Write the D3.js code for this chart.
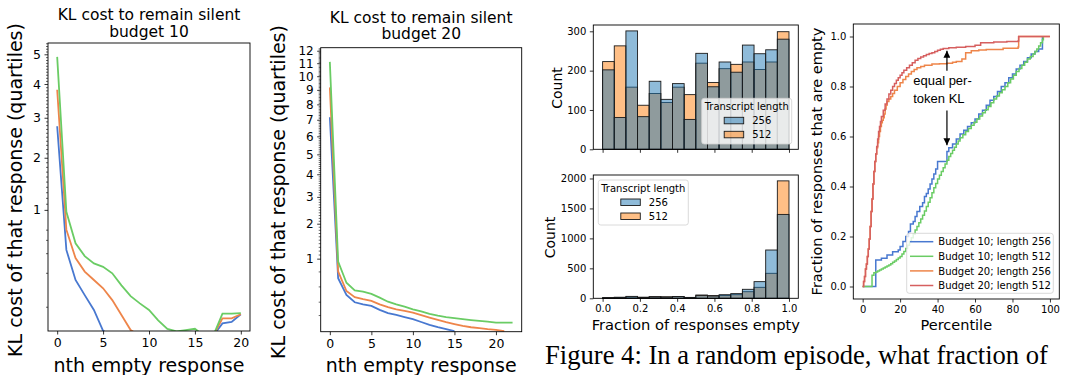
<!DOCTYPE html>
<html><head><meta charset="utf-8">
<script src="https://cdn.jsdelivr.net/npm/d3@7"></script>
<style>body{margin:0;background:#fff}svg{display:block}</style>
</head><body>
<svg id="c" width="1065" height="375"></svg>
<script>
// ---------- DATA ----------
// Panel 1: KL cost to remain silent, budget 10 (quartiles)
const p1Xs = [0,1,2,3,4,5,6,7,8,9,10,11,12,13,14,15,16,17,18,19,20];
const p1Lower  = [2.77,0.465,0.196,0.104,0.042,0.0015,0,0,0,0,0,0,0,0,0,0,0,0,0.0096,0.012,0.029];
const p1Median = [3.82,0.71,0.38,0.26,0.196,0.142,0.080,0.027,0.002,0,0,0,0,0,0,0,0,0,0.019,0.019,0.029];
const p1Upper  = [4.91,0.97,0.54,0.40,0.33,0.30,0.246,0.16,0.099,0.066,0.042,0.015,0.003,0.0012,0.002,0.003,0,0,0.031,0.031,0.032];
const p1Ticks = [1,2,3,4,5];
const p1XTicks = [0,5,10,15,20];
// Panel 2: budget 20
const p2Xs = [0,1,2,3,4,5,6,7,8,9,10,11,12,13,14,15,16,17,18,19,20,21,22];
const p2Lower  = [7.16,0.59,0.325,0.233,0.21,0.194,0.154,0.125,0.111,0.095,0.080,0.062,0.046,0.035,0.027,0.020];
const p2Median = [9.18,0.72,0.38,0.295,0.27,0.25,0.21,0.18,0.16,0.145,0.13,0.11,0.091,0.075,0.061,0.05,0.041,0.035,0.031,0.027,0.024,0.02];
const p2Upper  = [11.1,0.93,0.51,0.39,0.37,0.34,0.29,0.24,0.21,0.185,0.16,0.14,0.119,0.105,0.094,0.087,0.080,0.074,0.069,0.064,0.059,0.059,0.059];
const p2Ticks = [1,2,3,4,5,6,7,8,9,10,11,12];
const p2XTicks = [0,5,10,15,20];
// Panel 3: histograms of fraction of responses empty (16 bins on [0,1])
const histLengths = ["256","512"];
const topCounts256 = [202,81,301,83,173,127,167,76,244,159,222,196,265,243,253,280];
const topCounts512 = [223,263,158,112,142,119,158,139,219,170,205,216,222,203,222,299];
const botCounts256 = [12,18,32,15,22,20,30,10,45,38,60,78,150,278,806,1400];
const botCounts512 = [8,14,22,18,28,25,28,15,55,45,45,60,110,183,417,1960];
const topYTicks = [0,100,200,300];
const botYTicks = [0,500,1000,1500,2000];
const fracTicks = [0,0.2,0.4,0.6,0.8,1.0];
// Panel 4: step curves (percentile, fraction empty)
const b10l256 = [[0,0],[6.8,0],[7,0.106],[10,0.113],[13,0.126],[16,0.139],[19,0.146],[20,0.16],[21.5,0.18],[23,0.2],[24.5,0.22],[25.5,0.25],[27,0.26],[28,0.28],[29,0.3],[30.5,0.32],[32,0.335],[33,0.36],[34,0.372],[35,0.39],[36,0.41],[37,0.43],[38,0.45],[39,0.47],[40,0.5],[44,0.5],[45,0.54],[46,0.555],[48,0.57],[50,0.59],[52,0.61],[54,0.625],[56,0.64],[58,0.655],[60,0.67],[62,0.69],[64,0.705],[66,0.725],[68,0.745],[70,0.76],[72,0.78],[74,0.8],[76,0.815],[78,0.835],[80,0.85],[82,0.87],[84,0.885],[86,0.9],[88,0.915],[90,0.93],[92,0.94],[94,0.95],[96,1.0]];
const b10l512 = [[0,0],[4.8,0],[5,0.045],[6,0.055],[7,0.058],[8,0.062],[9,0.066],[10,0.07],[11,0.074],[12,0.078],[13,0.082],[14,0.086],[15,0.091],[16,0.097],[17,0.102],[18,0.108],[19,0.114],[20,0.12],[21,0.13],[22,0.14],[23,0.152],[24,0.165],[25,0.18],[26,0.195],[27,0.21],[28,0.226],[29,0.24],[30,0.255],[31,0.27],[32,0.285],[33,0.302],[34,0.32],[35,0.337],[36,0.355],[37,0.375],[38,0.395],[39,0.412],[40,0.43],[41,0.445],[42,0.46],[43,0.475],[44,0.49],[45,0.505],[46,0.52],[47,0.532],[48,0.545],[49,0.557],[50,0.57],[51,0.582],[52,0.595],[53.5,0.607],[55,0.62],[56.5,0.632],[58,0.645],[59.5,0.657],[61,0.67],[62.5,0.682],[64,0.695],[65.5,0.707],[67,0.72],[68.5,0.735],[70,0.75],[71.5,0.762],[73,0.775],[74.5,0.787],[76,0.8],[77.5,0.815],[79,0.83],[80.5,0.845],[82,0.86],[83.5,0.872],[85,0.885],[86.5,0.897],[88,0.91],[89.5,0.92],[91,0.93],[92,0.94],[93,0.95],[94,0.962],[95,0.975],[96,0.987],[96.5,1.0]];
const b20l256 = [[0,0],[0.5,0.02],[1,0.04],[1.5,0.07],[2,0.09],[2.5,0.12],[3,0.15],[3.5,0.19],[4,0.24],[4.5,0.3],[5,0.35],[5.5,0.41],[6,0.46],[6.5,0.5],[7,0.53],[7.5,0.555],[8,0.575],[8.5,0.6],[9,0.62],[9.5,0.64],[10,0.655],[10.5,0.665],[11,0.675],[11.5,0.69],[12,0.71],[12.5,0.725],[13,0.74],[14,0.75],[15,0.76],[16,0.772],[17,0.785],[18.5,0.8],[20,0.815],[21.5,0.828],[23,0.84],[24.5,0.85],[26,0.86],[27.5,0.868],[29,0.875],[31,0.88],[33,0.885],[37,0.89],[41,0.891],[45,0.893],[48,0.897],[50,0.9],[53,0.91],[55,0.935],[58,0.943],[62,0.946],[66,0.948],[75,0.953],[83,0.958],[83.3,1.0],[100,1.0]];
const b20l512 = [[0,0],[0.5,0.02],[1,0.04],[1.5,0.07],[2,0.09],[2.5,0.12],[3,0.15],[3.5,0.19],[4,0.24],[4.5,0.3],[5,0.35],[5.5,0.41],[6,0.46],[6.5,0.5],[7,0.53],[7.5,0.56],[8,0.59],[8.5,0.62],[9,0.64],[9.5,0.66],[10,0.68],[11,0.705],[12,0.73],[13,0.75],[14,0.77],[15,0.785],[16,0.8],[17,0.812],[18,0.825],[19,0.835],[20,0.845],[21,0.855],[22,0.865],[23.5,0.875],[25,0.885],[26.5,0.895],[28,0.905],[29.5,0.912],[31,0.918],[32.5,0.923],[34,0.928],[35.5,0.932],[37,0.935],[38.5,0.94],[40,0.945],[41.5,0.949],[43,0.952],[46,0.955],[50,0.957],[55,0.96],[60,0.965],[63,0.975],[70,0.978],[77,0.98],[83,0.982],[83.3,1.0],[100,1.0]];
const p4Labels = ["Budget 10; length 256","Budget 10; length 512","Budget 20; length 256","Budget 20; length 512"];
const p4YTicks = [0,0.2,0.4,0.6,0.8,1.0];
const p4XTicks = [0,20,40,60,80,100];

// ---------- STYLE ----------
const C = {blue:"#4878d0", orange:"#ee854a", green:"#6acc64", red:"#d65f5f"};
const FONT = "DejaVu Sans";
const svg = d3.select("#c");
svg.append("rect").attr("width",1065).attr("height",375).attr("fill","#fff");

function styleAxis(g, fs){
  g.select(".domain").remove();
  g.attr("font-family",FONT).attr("font-size",fs);
  g.selectAll(".tick line").attr("stroke","#000").attr("stroke-width",0.8);
  g.selectAll(".tick text").attr("fill","#000");
}
function frame(x0,y0,x1,y1){
  svg.append("rect").attr("x",x0).attr("y",y0).attr("width",x1-x0).attr("height",y1-y0)
    .attr("fill","none").attr("stroke","#000").attr("stroke-width",0.9);
}
function text(x,y,s,fs,opts={}){
  const t = svg.append("text").attr("x",x).attr("y",y).text(s)
    .attr("font-family",opts.family||FONT).attr("font-size",fs).attr("fill",opts.fill||"#000")
    .attr("text-anchor",opts.anchor||"middle");
  if(opts.rotate) t.attr("transform",`rotate(-90,${x},${y})`);
  return t;
}

// ---------- PANELS 1 & 2 ----------
function klPanel(id, box, xDom, yDom, xs, series, yTicks, xTicks, minorTicks, title2, titleY, yfs){
  const [x0,y0,x1,y1] = box;
  const xsc = d3.scaleLinear().domain(xDom).range([x0,x1]);
  const ysc = d3.scaleSqrt().domain(yDom).range([y1,y0]);
  svg.append("clipPath").attr("id",id).append("rect").attr("x",x0).attr("y",y0).attr("width",x1-x0).attr("height",y1-y0);
  const g = svg.append("g").attr("clip-path",`url(#${id})`);
  series.forEach(s=>{
    const line = d3.line().x((d,i)=>xsc(xs[i])).y(d=>ysc(Math.max(d,0)));
    g.append("path").attr("d",line(s.v)).attr("fill","none").attr("stroke",s.c).attr("stroke-width",1.8);
  });
  const ax = svg.append("g").attr("transform",`translate(0,${y1})`)
    .call(d3.axisBottom(xsc).tickValues(xTicks).tickSize(3.5).tickPadding(3.5).tickFormat(d3.format("d")));
  styleAxis(ax,12.5);
  const ay = svg.append("g").attr("transform",`translate(${x0},0)`)
    .call(d3.axisLeft(ysc).tickValues(yTicks).tickSize(3.5).tickPadding(3.5).tickFormat(d3.format("d")));
  styleAxis(ay,yfs);
  const am = svg.append("g").attr("transform",`translate(${x0},0)`)
    .call(d3.axisLeft(ysc).tickValues(minorTicks).tickSize(2).tickFormat(""));
  styleAxis(am,10);
  am.selectAll(".tick line").attr("stroke-width",0.6);
  frame(x0,y0,x1,y1);
  const cx = (x0+x1)/2;
  text(cx, titleY[0], "KL cost to remain silent", 15.5);
  text(cx, titleY[1], title2, 15.5);
  text(cx, 372, "nth empty response", 19);
}
const minor1 = d3.range(11,55).filter(v=>v%10!==0).map(v=>v/10).concat([0.71,0.58,0.43,0.25,0.053]);
const minor2 = d3.range(11,123).filter(v=>v%10!==0).map(v=>v/10).concat([0.72,0.45,0.24,0.11]);
klPanel("cp1",[48,43,250,331],[-1,21],[0.0014,5.41],p1Xs,
  [{v:p1Lower,c:C.blue},{v:p1Median,c:C.orange},{v:p1Upper,c:C.green}],p1Ticks,p1XTicks,minor1,"budget 10",[20,37],12.5);
text(21.5,190,"KL cost of that response (quartiles)",19,{rotate:true});
klPanel("cp2",[320.7,47.7,521.7,331.7],[-1.1,23.1],[0.018,12.25],p2Xs,
  [{v:p2Lower,c:C.blue},{v:p2Median,c:C.orange},{v:p2Upper,c:C.green}],p2Ticks,p2XTicks,minor2,"budget 20",[22.5,39],12);
text(285,192,"KL cost of that response (quartiles)",19,{rotate:true});

// ---------- PANEL 3: HISTOGRAMS ----------
const HB = "#1f77b4", HO = "#ff7f0e", HA = 0.5;
function hist(box, c256, c512, yTicks, showXLabels, legendBox){
  const [x0,y0,x1,y1] = box;
  const n = c256.length;
  const xsc = d3.scaleLinear().domain([-0.05,1.05]).range([x0,x1]);
  const ysc = d3.scaleLinear().domain([0, d3.max(c256.concat(c512))*1.05]).range([y1,y0]);
  const g = svg.append("g");
  const bins = d3.range(n);
  const layer = (counts,col)=>{
    g.selectAll(null).data(bins).join("rect")
      .attr("x",i=>xsc(i/n)).attr("width",i=>xsc((i+1)/n)-xsc(i/n))
      .attr("y",i=>ysc(counts[i])).attr("height",i=>ysc(0)-ysc(counts[i]))
      .attr("fill",col).attr("fill-opacity",HA).attr("stroke","#1a1a1a").attr("stroke-width",0.9);
  };
  layer(c512,HO);
  layer(c256,HB);
  const ax = svg.append("g").attr("transform",`translate(0,${y1})`)
    .call(d3.axisBottom(xsc).tickValues(fracTicks).tickSize(3.5).tickPadding(3.5)
      .tickFormat(showXLabels? d3.format(".1f") : ""));
  styleAxis(ax,10);
  const ay = svg.append("g").attr("transform",`translate(${x0},0)`)
    .call(d3.axisLeft(ysc).tickValues(yTicks).tickSize(3.5).tickPadding(3.5).tickFormat(d3.format("d")));
  styleAxis(ay,10);
  frame(x0,y0,x1,y1);
  // legend
  const [lx,ly,lw,lh] = legendBox;
  svg.append("rect").attr("x",lx).attr("y",ly).attr("width",lw).attr("height",lh).attr("rx",2.5)
    .attr("fill","#fff").attr("fill-opacity",0.8).attr("stroke","#d0d0d0").attr("stroke-width",0.8);
  text(lx+lw/2, ly+12, "Transcript length", 10);
  [HB,HO].forEach((col,i)=>{
    const yy = ly+19+i*14;
    svg.append("rect").attr("x",lx+22.5).attr("y",yy).attr("width",19.5).attr("height",6.5)
      .attr("fill",col).attr("fill-opacity",HA).attr("stroke","#1a1a1a").attr("stroke-width",0.9);
    text(lx+50.5, yy+7, histLengths[i], 10, {anchor:"start"});
  });
}
hist([593.3,25,798.3,149.3], topCounts256, topCounts512, topYTicks, false, [701.7,98.3,90,45.7]);
hist([593.3,175,798.3,298.3], botCounts256, botCounts512, botYTicks, true, [598.3,180,90,45]);
text(561.5,88,"Count",14,{rotate:true});
text(555,237.5,"Count",14,{rotate:true});
text(695.8,330,"Fraction of responses empty",14.7);

// ---------- PANEL 4: STEP CURVES ----------
{
  const [x0,y0,x1,y1] = [853.3,24,1059.3,299];
  const xsc = d3.scaleLinear().domain([-5,105]).range([x0,x1]);
  const ysc = d3.scaleLinear().domain([-0.05,1.05]).range([y1,y0]);
  const line = d3.line().x(d=>xsc(d[0])).y(d=>ysc(d[1])).curve(d3.curveStepAfter);
  const series = [{d:b10l256,c:C.blue},{d:b10l512,c:C.green},{d:b20l256,c:C.orange},{d:b20l512,c:C.red}];
  series.forEach(s=>svg.append("path").attr("d",line(s.d)).attr("fill","none").attr("stroke",s.c).attr("stroke-width",1.5));
  const ax = svg.append("g").attr("transform",`translate(0,${y1})`)
    .call(d3.axisBottom(xsc).tickValues(p4XTicks).tickSize(3.5).tickPadding(3.5).tickFormat(d3.format("d")));
  styleAxis(ax,10);
  const ay = svg.append("g").attr("transform",`translate(${x0},0)`)
    .call(d3.axisLeft(ysc).tickValues(p4YTicks).tickSize(3.5).tickPadding(3.5).tickFormat(d3.format(".1f")));
  styleAxis(ay,10);
  frame(x0,y0,x1,y1);
  text((x0+x1)/2,330,"Percentile",14.5);
  text(821.5,(y0+y1)/2,"Fraction of responses that are empty",14.5,{rotate:true});
  // annotation
  const ax45 = xsc(45);
  const defs = svg.append("defs");
  defs.append("marker").attr("id","ah").attr("viewBox","0 0 10 10").attr("refX",10).attr("refY",5)
    .attr("markerWidth",7).attr("markerHeight",7).attr("markerUnits","userSpaceOnUse").attr("orient","auto")
    .append("path").attr("d","M0,0L10,5L0,10z").attr("fill","#000");
  svg.append("line").attr("x1",ax45).attr("x2",ax45).attr("y1",ysc(0.863)).attr("y2",ysc(0.943))
    .attr("stroke","#000").attr("stroke-width",1.2).attr("marker-end","url(#ah)");
  svg.append("line").attr("x1",ax45).attr("x2",ax45).attr("y1",ysc(0.704)).attr("y2",ysc(0.565))
    .attr("stroke","#000").attr("stroke-width",1.2).attr("marker-end","url(#ah)");
  text(xsc(27),ysc(0.805),"equal per-",13,{anchor:"start",family:"Liberation Sans"});
  text(xsc(27),ysc(0.733),"token KL",13,{anchor:"start",family:"Liberation Sans"});
  // legend
  svg.append("rect").attr("x",906.7).attr("y",233.3).attr("width",146.6).attr("height",60).attr("rx",2.5)
    .attr("fill","#fff").attr("fill-opacity",0.8).attr("stroke","#d0d0d0").attr("stroke-width",0.8);
  series.forEach((s,i)=>{
    const yy = 241.7 + i*14.6;
    svg.append("line").attr("x1",910).attr("x2",933.3).attr("y1",yy).attr("y2",yy).attr("stroke",s.c).attr("stroke-width",1.5);
    text(938.3, yy+3.6, p4Labels[i], 10, {anchor:"start"});
  });
}

// ---------- CAPTION ----------
text(545,364,"Figure 4: In a random episode, what fraction of",26.6,{anchor:"start",family:"Liberation Serif"});
</script>
</body></html>
